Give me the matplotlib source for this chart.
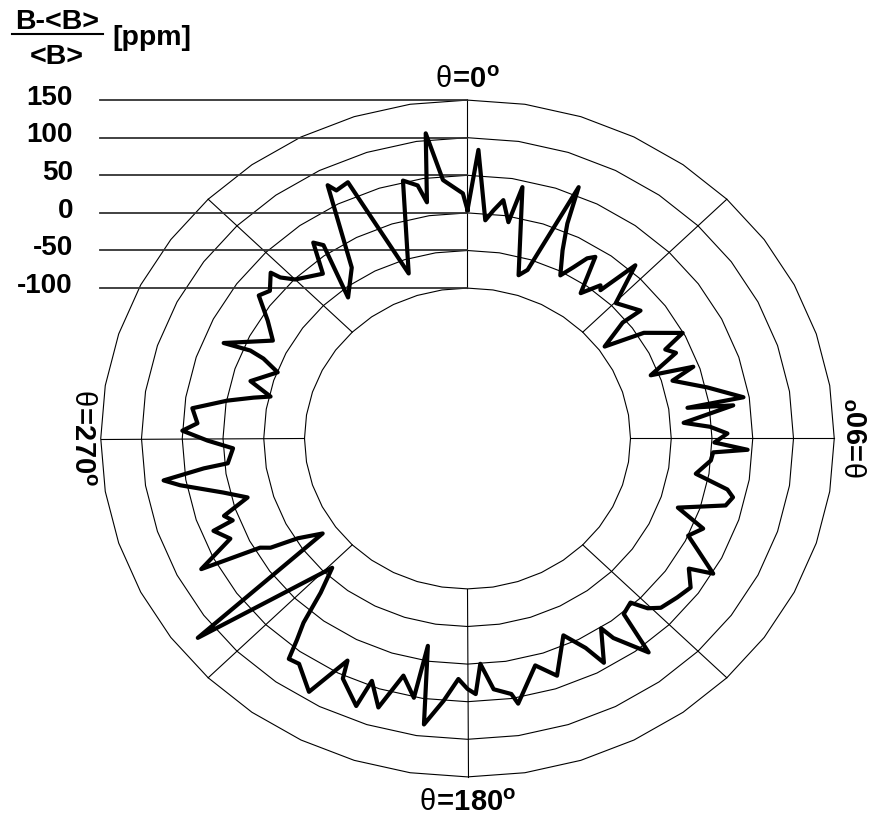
import numpy as np
import matplotlib
matplotlib.use("Agg")
import matplotlib.pyplot as plt
from matplotlib.lines import Line2D

plt.rcParams['font.family'] = ['Liberation Sans', 'DejaVu Sans']
plt.rcParams['mathtext.fontset'] = 'custom'
plt.rcParams['mathtext.rm'] = 'Liberation Sans'
plt.rcParams['mathtext.bf'] = 'Liberation Sans:bold'
plt.rcParams['mathtext.it'] = 'Liberation Sans:italic'

# azimuth (deg, clockwise from top) and field deviation (ppm), in trace order
theta_deg = [0, 2.0, 4.3, 6.0, 7.9, 9.9, 11.4, 16.1, 18.2, 22.2, 23.2, 25.0, 27.7, 29.7,
             31.5, 33.0, 35.7, 38.7, 39.6, 41.8, 45.3, 51.3, 51.0, 54.0, 57.0, 62.0,
             64.0, 66.0, 69.5, 71.0, 73.0, 77.0, 80.8, 81.4, 82.3, 85.5, 87.0, 88.8,
             91.0, 92.5, 93.5, 95.6, 99.5, 102.0, 103.5, 105.7, 109.6, 112.5, 115.5,
             117.8, 120.8, 122.5, 125.9, 129.4, 133.5, 135.6, 137.5, 140.6, 142.0,
             146.0, 147.0, 150.7, 152.5, 155.8, 160.8, 164.6, 170.0, 171.0, 174.5,
             177.0, 178.3, 180.0, 182.0, 184.8, 188.0, 190.0, 190.8, 194.0, 197.0,
             200.0, 201.0, 205.6, 206.5, 210.0, 214.6, 216.8, 218.0, 219.4, 221.3,
             224.0, 231.3, 234.6, 237.5, 239.0, 240.3, 242.0, 245.4, 248.5, 249.3,
             251.0, 253.8, 256.5, 260.0, 261.5, 263.0, 263.6, 267.4, 269.5, 271.7,
             273.5, 276.8, 279.7, 281.7, 283.0, 286.0, 290.7, 293.0, 293.7, 293.0,
             298.6, 302.6, 306.6, 309.0, 312.4, 313.0, 315.0, 321.0, 324.0, 325.5,
             322.0, 328.0, 333.0, 334.0, 336.7, 341.8, 347.0, 349.7, 351.0, 352.8,
             355.0, 359.0, 360.0]
dev_ppm = [4, 84, -9, 5, 20, -8, 41, -74, -64, 61, 11, -24, -55, -38,
           -19, -12, -62, -39, -44, 9, -44, -28, -55, -92, -42, -1,
           -30, -20, -60, -7, -37, 2, 43, -27, 29, -34, -2, 19,
           3, 44, 2, 0, -16, 26, 35, 29, -26, 13, 0,
           20, 51, 22, 38, 33, 27, 16, -4, 2, 61,
           20, 1, 42, 14, -13, 34, 13, 58, 44, 35,
           0, 40, 33, 20, 50, 84, -20, 51, 25, 74,
           43, 81, 54, 30, 89, 64, 66, 40, 17, -27,
           -61, 124, -82, -53, -18, -7, 70, 20, 35, 8,
           16, -19, 8, 58, 77, 26, -4, -12, 19, 50,
           32, 40, -1, -32, -52, -23, -51, -28, -9, 25,
           -28, -9, 19, 12, 27, 14, -1, -18, 22, 12,
           -62, -32, 78, 67, 71, -69, 52, 42, 18, 109,
           45, 26, 4]

ring_levels = [-100, -50, 0, 50, 100, 150]
spoke_angles = [0, 45, 90, 135, 180, 225, 270, 315]
angle_labels = ['0', '90', '180', '270']
r_offset = 300  # the centre of the plot sits at -300 ppm
ring_step = 9   # rings are drawn as 40-sided polygons

W, H = 875, 821
CX, CY = 467.5, 438.5
SX, SY = 0.815, 0.752  # pixels per ppm, horizontal / vertical


def to_xy(theta, value):
    t = np.radians(np.asarray(theta, dtype=float))
    r = np.asarray(value, dtype=float) + r_offset
    return r * np.sin(t), r * np.cos(t)


def poly_r(a, r, step=ring_step):
    # radius of the polygon ring at angle a
    mid = step * np.floor(a / step) + step / 2
    return r * np.cos(np.radians(step / 2)) / np.cos(np.radians(a - mid))


def fpos(x, y):
    return x / W, 1 - y / H


fig = plt.figure(figsize=(W / 100, H / 100), dpi=100)
ax = fig.add_axes([0, 0, 1, 1])
ax.set_xlim(-CX / SX, (W - CX) / SX)
ax.set_ylim(-(H - CY) / SY, CY / SY)
ax.axis('off')

# rings
t_ring = np.arange(0, 361, ring_step)
for lvl in ring_levels:
    x, y = to_xy(t_ring, np.full(t_ring.shape, lvl))
    ax.plot(x, y, color='black', lw=0.8)

# spokes
for a in spoke_angles:
    r0 = poly_r(a, ring_levels[0] + r_offset) - r_offset
    r1 = poly_r(a, ring_levels[-1] + r_offset) - r_offset
    x, y = to_xy([a, a], [r0, r1])
    ax.plot(x, y, color='black', lw=0.8)

# scale lines and labels on the left
for lvl in ring_levels:
    ax.plot([(100 - CX) / SX, 0], [lvl + r_offset] * 2, color='#333333', lw=1.3)
    ax.text((73 - CX) / SX, lvl + r_offset + 3, str(lvl), ha='right', va='center',
            fontsize=20, fontweight='bold')

# measured trace
x, y = to_xy(theta_deg, dev_ppm)
ax.plot(x, y, color='black', lw=3.0, solid_joinstyle='round')


def lab(a):
    return r'$\mathrm{\theta}\!\mathbf{=}\!\mathbf{%s}^{\mathbf{o}}$' % a


fig.text(*fpos(467, 80), lab(angle_labels[0]), ha='center', va='center', fontsize=21)
fig.text(*fpos(861, 438), lab(angle_labels[1]), ha='center', va='center', fontsize=21,
         rotation=90)
fig.text(*fpos(468, 803), lab(angle_labels[2]), ha='center', va='center', fontsize=21)
fig.text(*fpos(82, 438), lab(angle_labels[3]), ha='center', va='center', fontsize=21,
         rotation=-90)

# axis title as a fraction
fig.text(*fpos(57, 22), 'B-<B>', ha='center', va='center', fontsize=20.5, fontweight='bold')
fig.add_artist(Line2D([12 / W, 103 / W], [1 - 34 / H] * 2, color='black', lw=1.5,
                      transform=fig.transFigure))
fig.text(*fpos(57, 57), '<B>', ha='center', va='center', fontsize=20.5, fontweight='bold')
fig.text(*fpos(112, 38), '[ppm]', ha='left', va='center', fontsize=20.5, fontweight='bold')

fig.savefig('out.png', dpi=100)
